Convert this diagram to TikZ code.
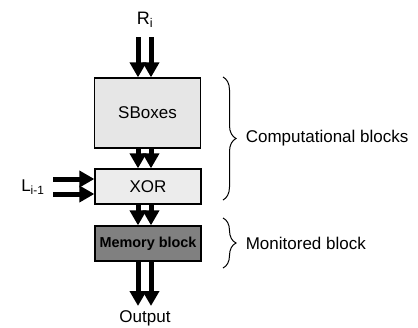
\documentclass[tikz,border=0pt]{standalone}
\usepackage{fontspec}
\setmainfont{Liberation Sans}
\usetikzlibrary{arrows.meta,decorations.pathreplacing}
\definecolor{sboxgray}{RGB}{230,230,230}
\definecolor{xorgray}{RGB}{236,236,236}
\definecolor{memgray}{RGB}{128,128,128}

\begin{document}
\begin{tikzpicture}[x=1pt,y=-1pt,
  block/.style={draw,line width=1.3pt,minimum width=106pt,inner sep=0pt},
  bus/.style={line width=5pt,-{Triangle[length=15pt,width=16pt]}},
  curly/.style={decorate,decoration={brace,amplitude=13pt},line width=1pt},
  lbl/.style={font=\fontsize{17}{20}\selectfont}]
  \useasboundingbox (0,0) rectangle (418,327);
  % blocks
  \node[block,fill=sboxgray,minimum height=70pt,lbl] (sbox) at (147.5,113) {SBoxes};
  \node[block,fill=xorgray,minimum height=35pt,lbl] (xor) at (148,186.5) {XOR};
  \node[block,fill=memgray,minimum height=35pt,font=\bfseries\fontsize{14.4}{16}\selectfont] (mem) at (148,243.5) {Memory block};
  % inputs and output
  \node[lbl,font=\fontsize{18}{20}\selectfont] (rin) at (145,20) {R\textsubscript{i}};
  \node[lbl,anchor=east] (lin) at (48,187) {L\textsubscript{i-1}};
  \node[lbl] (out) at (145,318) {Output};
  \coordinate (r1) at (138,37);
  \coordinate (r2) at (151,37);
  \coordinate (l1) at (53,179);
  \coordinate (l2) at (53,194);
  \coordinate (o1) at (138,306);
  \coordinate (o2) at (151,306);
  \draw[bus] (r1) -- (r1 |- sbox.north);
  \draw[bus] (r2) -- (r2 |- sbox.north);
  \draw[bus] (sbox.south -| r1) -- (xor.north -| r1);
  \draw[bus] (sbox.south -| r2) -- (xor.north -| r2);
  \draw[bus] (l1) -- (l1 -| xor.west);
  \draw[bus] (l2) -- (l2 -| xor.west);
  \draw[bus] (xor.south -| r1) -- (mem.north -| r1);
  \draw[bus] (xor.south -| r2) -- (mem.north -| r2);
  \draw[bus] (mem.south -| r1) -- (o1);
  \draw[bus] (mem.south -| r2) -- (o2);
  % braces
  \draw[curly] (223,77) -- (223,200) node[midway,right=19pt,lbl] (comp) {Computational blocks};
  \draw[curly] (223,218) -- (223,268) node[midway,right=19pt,lbl] (moni) {Monitored block};
\end{tikzpicture}
\end{document}
